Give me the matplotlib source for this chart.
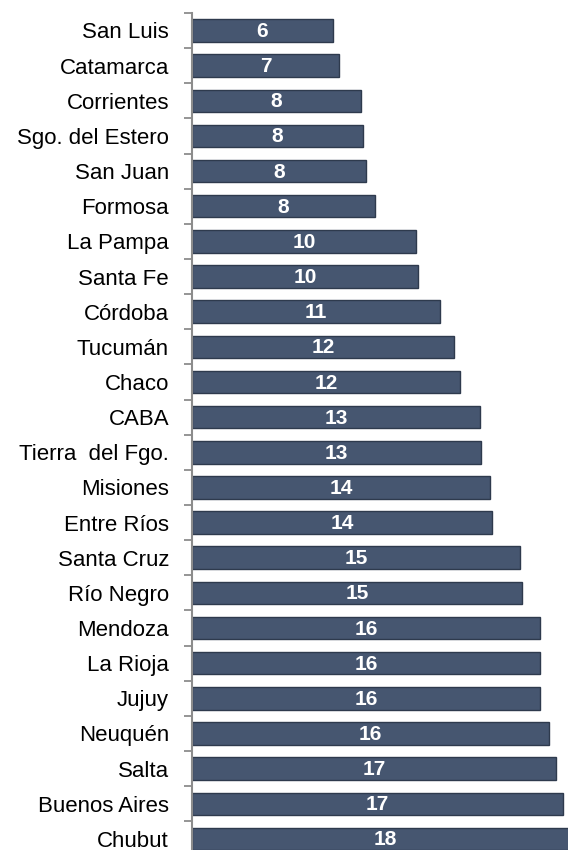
import numpy as np
import matplotlib.pyplot as plt

# Provincias (de arriba hacia abajo)
provincias = ["San Luis", "Catamarca", "Corrientes", "Sgo. del Estero", "San Juan",
              "Formosa", "La Pampa", "Santa Fe", "Córdoba", "Tucumán", "Chaco",
              "CABA", "Tierra  del Fgo.", "Misiones", "Entre Ríos", "Santa Cruz",
              "Río Negro", "Mendoza", "La Rioja", "Jujuy", "Neuquén", "Salta",
              "Buenos Aires", "Chubut"]

# Largo de las barras (estimado)
valores = [6.70, 7.01, 8.05, 8.14, 8.29, 8.71, 10.67, 10.76, 11.81, 12.48, 12.76,
           13.71, 13.76, 14.19, 14.29, 15.62, 15.71, 16.57, 16.57, 16.57, 16.99,
           17.33, 17.68, 18.40]

# Etiquetas mostradas sobre las barras
etiquetas = [6, 7, 8, 8, 8, 8, 10, 10, 11, 12, 12, 13, 13, 14, 14, 15, 15,
             16, 16, 16, 16, 17, 17, 18]

plt.rcParams['font.family'] = ['Liberation Sans', 'DejaVu Sans']

fig = plt.figure(figsize=(5.68, 8.5), dpi=100)
ax = fig.add_axes([192 / 568, -6.5 / 850, 376 / 568, 843.6 / 850])

y = np.arange(len(provincias))
ax.barh(y, valores, height=0.64, color="#465670", edgecolor="#2e3a4d", linewidth=1)

for yi, v, lab in zip(y, valores, etiquetas):
    ax.text(v / 2, yi + 0.03, str(lab), ha="center", va="center", color="white",
            fontsize=15, fontweight="bold")

ax.set_xlim(0, 376 / 21)
ax.set_ylim(len(provincias) - 0.5, -0.5)

ax.set_yticks(y)
ax.set_yticklabels(provincias, fontsize=16)
ax.tick_params(axis="y", which="major", length=0, pad=16.5)
ax.set_yticks(np.arange(len(provincias) + 1) - 0.5, minor=True)
ax.tick_params(axis="y", which="minor", length=6, width=1.3, color="#8c8c8c")
ax.set_xticks([])

for s in ["top", "right", "bottom"]:
    ax.spines[s].set_visible(False)
ax.spines["left"].set_color("#8c8c8c")
ax.spines["left"].set_linewidth(1.5)

fig.savefig("out.png", dpi=100)
